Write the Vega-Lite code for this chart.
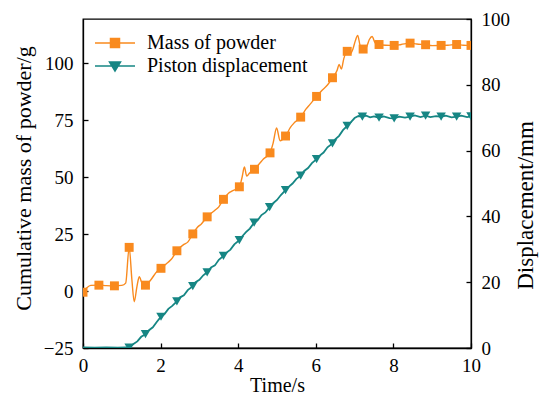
{
  "$schema": "https://vega.github.io/schema/vega-lite/v6.json",
  "width": 388,
  "height": 329,
  "autosize": {"type": "none"},
  "padding": {"left": 83, "top": 19, "right": 71, "bottom": 49},
  "config": {
    "font": "Liberation Serif",
    "view": {"stroke": "black", "strokeWidth": 1.3},
    "axis": {
      "labelFont": "Liberation Serif", "titleFont": "Liberation Serif",
      "labelFontSize": 19, "titleFontSize": 20, "titleFontWeight": "normal",
      "labelColor": "black", "titleColor": "black",
      "domainColor": "black", "tickColor": "black", "domainWidth": 1.3, "tickWidth": 1.3,
      "tickSize": -5, "grid": false
    }
  },
  "datasets": {
    "massLine": [
      {"t": 0.0, "mass": -0.5}, {"t": 0.1, "mass": 1.5}, {"t": 0.2, "mass": 2.5}, {"t": 0.41, "mass": 2.6},
      {"t": 0.6, "mass": 2.4}, {"t": 0.81, "mass": 2.3}, {"t": 1.0, "mass": 2.5}, {"t": 1.1, "mass": 3.5},
      {"t": 1.19, "mass": 19.2}, {"t": 1.26, "mass": 5}, {"t": 1.32, "mass": -4.7}, {"t": 1.39, "mass": 2},
      {"t": 1.45, "mass": 6.3}, {"t": 1.52, "mass": 3.5}, {"t": 1.61, "mass": 2.6}, {"t": 1.75, "mass": 5},
      {"t": 1.9, "mass": 8.5}, {"t": 2.01, "mass": 10}, {"t": 2.15, "mass": 12}, {"t": 2.25, "mass": 13.5},
      {"t": 2.3, "mass": 14.5}, {"t": 2.42, "mass": 17.7}, {"t": 2.6, "mass": 20.5}, {"t": 2.7, "mass": 21.5},
      {"t": 2.83, "mass": 25.1}, {"t": 2.95, "mass": 28}, {"t": 3.05, "mass": 29.5}, {"t": 3.2, "mass": 32.6},
      {"t": 3.4, "mass": 35.5}, {"t": 3.5, "mass": 37}, {"t": 3.62, "mass": 40.3}, {"t": 3.75, "mass": 43},
      {"t": 3.85, "mass": 44}, {"t": 4.03, "mass": 45.8}, {"t": 4.1, "mass": 50}, {"t": 4.16, "mass": 54.5},
      {"t": 4.22, "mass": 50.5}, {"t": 4.3, "mass": 52}, {"t": 4.42, "mass": 53.5}, {"t": 4.55, "mass": 56},
      {"t": 4.65, "mass": 58}, {"t": 4.82, "mass": 60.7}, {"t": 4.9, "mass": 65}, {"t": 4.99, "mass": 71.6},
      {"t": 5.08, "mass": 66}, {"t": 5.22, "mass": 68.1}, {"t": 5.35, "mass": 72}, {"t": 5.45, "mass": 74},
      {"t": 5.61, "mass": 76.4}, {"t": 5.75, "mass": 80}, {"t": 5.85, "mass": 82}, {"t": 6.02, "mass": 85.5},
      {"t": 6.15, "mass": 88}, {"t": 6.3, "mass": 90.5}, {"t": 6.43, "mass": 93.7}, {"t": 6.55, "mass": 97},
      {"t": 6.6, "mass": 99.5}, {"t": 6.66, "mass": 97.5}, {"t": 6.72, "mass": 102}, {"t": 6.81, "mass": 105.3},
      {"t": 6.88, "mass": 104}, {"t": 6.95, "mass": 106}, {"t": 7.02, "mass": 110}, {"t": 7.08, "mass": 112.3},
      {"t": 7.14, "mass": 108}, {"t": 7.22, "mass": 106.3}, {"t": 7.3, "mass": 107}, {"t": 7.38, "mass": 110.5},
      {"t": 7.45, "mass": 111.8}, {"t": 7.53, "mass": 109}, {"t": 7.63, "mass": 108.3}, {"t": 7.8, "mass": 108},
      {"t": 8.02, "mass": 107.9}, {"t": 8.2, "mass": 108.3}, {"t": 8.43, "mass": 108.9}, {"t": 8.6, "mass": 108.5},
      {"t": 8.83, "mass": 108.2}, {"t": 9.0, "mass": 107.8}, {"t": 9.23, "mass": 107.9}, {"t": 9.4, "mass": 108},
      {"t": 9.63, "mass": 108.3}, {"t": 9.8, "mass": 108}, {"t": 10.0, "mass": 107.9}
    ],
    "massPts": [
      {"t": 0.0, "mass": -0.5}, {"t": 0.41, "mass": 2.6}, {"t": 0.81, "mass": 2.3}, {"t": 1.19, "mass": 19.2},
      {"t": 1.61, "mass": 2.6}, {"t": 2.01, "mass": 10}, {"t": 2.42, "mass": 17.7}, {"t": 2.83, "mass": 25.1},
      {"t": 3.2, "mass": 32.6}, {"t": 3.62, "mass": 40.3}, {"t": 4.03, "mass": 45.8}, {"t": 4.42, "mass": 53.5},
      {"t": 4.82, "mass": 60.7}, {"t": 5.22, "mass": 68.1}, {"t": 5.61, "mass": 76.4}, {"t": 6.02, "mass": 85.5},
      {"t": 6.43, "mass": 93.7}, {"t": 6.81, "mass": 105.3}, {"t": 7.22, "mass": 106.3}, {"t": 7.63, "mass": 108.3},
      {"t": 8.02, "mass": 107.9}, {"t": 8.43, "mass": 108.9}, {"t": 8.83, "mass": 108.2}, {"t": 9.23, "mass": 107.9},
      {"t": 9.63, "mass": 108.3}, {"t": 10.0, "mass": 107.9}
    ],
    "dispLine": [
      {"t": 0.0, "disp": 0.2}, {"t": 0.3, "disp": 0.1}, {"t": 0.6, "disp": 0.2}, {"t": 0.9, "disp": 0.1},
      {"t": 1.1, "disp": 0.2}, {"t": 1.19, "disp": 0.1}, {"t": 1.3, "disp": 1.2}, {"t": 1.4, "disp": 2.0},
      {"t": 1.5, "disp": 3.4}, {"t": 1.61, "disp": 4.2}, {"t": 1.7, "disp": 5.4}, {"t": 1.8, "disp": 6.3},
      {"t": 1.9, "disp": 7.9}, {"t": 2.01, "disp": 9.5}, {"t": 2.1, "disp": 10.3}, {"t": 2.2, "disp": 11.9},
      {"t": 2.3, "disp": 12.8}, {"t": 2.42, "disp": 14.2}, {"t": 2.5, "disp": 15.4}, {"t": 2.6, "disp": 16.0},
      {"t": 2.7, "disp": 17.6}, {"t": 2.83, "disp": 18.8}, {"t": 2.9, "disp": 20.0}, {"t": 3.0, "disp": 20.7},
      {"t": 3.1, "disp": 22.1}, {"t": 3.2, "disp": 23.0}, {"t": 3.3, "disp": 24.5}, {"t": 3.4, "disp": 25.1},
      {"t": 3.5, "disp": 26.8}, {"t": 3.62, "disp": 28.0}, {"t": 3.7, "disp": 29.0}, {"t": 3.8, "disp": 29.9},
      {"t": 3.9, "disp": 31.5}, {"t": 4.03, "disp": 32.8}, {"t": 4.1, "disp": 33.9}, {"t": 4.2, "disp": 35.2},
      {"t": 4.3, "disp": 36.3}, {"t": 4.41, "disp": 38.1}, {"t": 4.5, "disp": 38.8}, {"t": 4.6, "disp": 40.4},
      {"t": 4.7, "disp": 41.2}, {"t": 4.81, "disp": 42.8}, {"t": 4.9, "disp": 44.0}, {"t": 5.0, "disp": 45.0},
      {"t": 5.1, "disp": 46.5}, {"t": 5.22, "disp": 48.0}, {"t": 5.3, "disp": 49.0}, {"t": 5.4, "disp": 50.0},
      {"t": 5.5, "disp": 51.4}, {"t": 5.61, "disp": 52.4}, {"t": 5.7, "disp": 53.8}, {"t": 5.8, "disp": 54.7},
      {"t": 5.9, "disp": 56.2}, {"t": 6.02, "disp": 57.4}, {"t": 6.1, "disp": 58.5}, {"t": 6.2, "disp": 59.4},
      {"t": 6.3, "disp": 61.0}, {"t": 6.43, "disp": 62.2}, {"t": 6.5, "disp": 63.4}, {"t": 6.6, "disp": 64.5},
      {"t": 6.7, "disp": 66.2}, {"t": 6.81, "disp": 67.5}, {"t": 6.9, "disp": 68.6}, {"t": 7.0, "disp": 69.9},
      {"t": 7.1, "disp": 70.5}, {"t": 7.2, "disp": 70.3}, {"t": 7.3, "disp": 70.6}, {"t": 7.4, "disp": 70.1},
      {"t": 7.5, "disp": 70.4}, {"t": 7.63, "disp": 70.0}, {"t": 7.75, "disp": 70.4}, {"t": 7.9, "disp": 69.9},
      {"t": 8.02, "disp": 69.8}, {"t": 8.15, "disp": 70.3}, {"t": 8.3, "disp": 70.0}, {"t": 8.43, "disp": 70.3},
      {"t": 8.55, "disp": 70.7}, {"t": 8.7, "disp": 70.2}, {"t": 8.83, "disp": 70.6}, {"t": 8.95, "disp": 70.2},
      {"t": 9.1, "disp": 70.5}, {"t": 9.23, "disp": 70.3}, {"t": 9.35, "disp": 70.6}, {"t": 9.5, "disp": 70.1},
      {"t": 9.63, "disp": 70.3}, {"t": 9.75, "disp": 70.6}, {"t": 9.9, "disp": 70.2}, {"t": 10.0, "disp": 70.4}
    ],
    "dispPts": [
      {"t": 1.19, "disp": 0.1}, {"t": 1.61, "disp": 4.2}, {"t": 2.01, "disp": 9.5}, {"t": 2.42, "disp": 14.2},
      {"t": 2.83, "disp": 18.8}, {"t": 3.2, "disp": 23.0}, {"t": 3.62, "disp": 28.0}, {"t": 4.03, "disp": 32.8},
      {"t": 4.41, "disp": 38.1}, {"t": 4.81, "disp": 42.8}, {"t": 5.22, "disp": 48.0}, {"t": 5.61, "disp": 52.4},
      {"t": 6.02, "disp": 57.4}, {"t": 6.43, "disp": 62.2}, {"t": 6.81, "disp": 67.5}, {"t": 7.2, "disp": 70.3},
      {"t": 7.63, "disp": 70.0}, {"t": 8.02, "disp": 69.8}, {"t": 8.43, "disp": 70.3}, {"t": 8.83, "disp": 70.6},
      {"t": 9.23, "disp": 70.3}, {"t": 9.63, "disp": 70.3}, {"t": 10.0, "disp": 70.4}
    ]
  },
  "encoding": {
    "x": {
      "field": "t", "type": "quantitative",
      "scale": {"domain": [0, 10], "nice": false},
      "axis": {"values": [0, 2, 4, 6, 8, 10], "title": "Time/s", "titleFontWeight": "normal", "labelPadding": 13, "titlePadding": 0, "labelFlush": false}
    }
  },
  "layer": [
    {
      "encoding": {
        "y": {
          "field": "mass", "type": "quantitative",
          "scale": {"domain": [-25, 119.5], "nice": false, "zero": false},
          "axis": {"orient": "left", "values": [-25, 0, 25, 50, 75, 100], "title": "Cumulative mass of powder/g", "titleFontSize": 22, "titleY": 159, "titleFontWeight": "normal", "labelPadding": 15, "titlePadding": 8, "labelFlush": false}
        }
      },
      "layer": [
        {
          "data": {"name": "massLine"},
          "mark": {"type": "line", "strokeWidth": 1.4, "clip": true, "interpolate": "monotone"},
          "encoding": {
            "color": {
              "datum": "Mass of powder",
              "scale": {"domain": ["Mass of powder", "Piston displacement"], "range": ["#F98A1E", "#168684"]},
              "legend": {
                "orient": "none", "legendX": 22, "legendY": 14, "title": null, "padding": 0,
                "symbolSize": 100, "labelFontSize": 20, "labelFont": "Liberation Serif", "labelColor": "black",
                "labelOffset": 22, "rowPadding": 3, "symbolStrokeWidth": 1.5, "labelLimit": 400,
                "encode": {
                  "symbols": {
                    "update": {
                      "shape": {"signal": "datum.value === 'Mass of powder' ? 'M-4,0H4M-0.9,-0.9H0.9V0.9H-0.9Z' : 'M-4,0H4M-1.1,-0.8H1.1L0,1Z'"},
                      "fill": {"signal": "datum.value === 'Mass of powder' ? '#F98A1E' : '#168684'"},
                      "stroke": {"signal": "datum.value === 'Mass of powder' ? '#F98A1E' : '#168684'"},
                      "opacity": {"value": 1}
                    }
                  }
                }
              }
            }
          }
        },
        {
          "data": {"name": "massPts"},
          "mark": {"type": "point", "shape": "square", "filled": true, "size": 80, "opacity": 1, "clip": true, "color": "#F98A1E"}
        }
      ]
    },
    {
      "encoding": {
        "y": {
          "field": "disp", "type": "quantitative",
          "scale": {"domain": [0, 100], "nice": false},
          "axis": {"orient": "right", "values": [0, 20, 40, 60, 80, 100], "title": "Displacement/mm", "titleFontSize": 23, "titleY": 186, "titleFontWeight": "normal", "titleAngle": -90, "titleBaseline": "top", "labelPadding": 15, "titlePadding": 5, "labelFlush": false}
        }
      },
      "layer": [
        {
          "data": {"name": "dispLine"},
          "mark": {"type": "line", "strokeWidth": 1.8, "clip": true},
          "encoding": {"color": {"datum": "Piston displacement"}}
        },
        {
          "data": {"name": "dispPts"},
          "mark": {"type": "point", "shape": "triangle-down", "filled": true, "size": 90, "opacity": 1, "clip": true, "color": "#168684"}
        }
      ]
    }
  ],
  "resolve": {"scale": {"y": "independent"}}
}
